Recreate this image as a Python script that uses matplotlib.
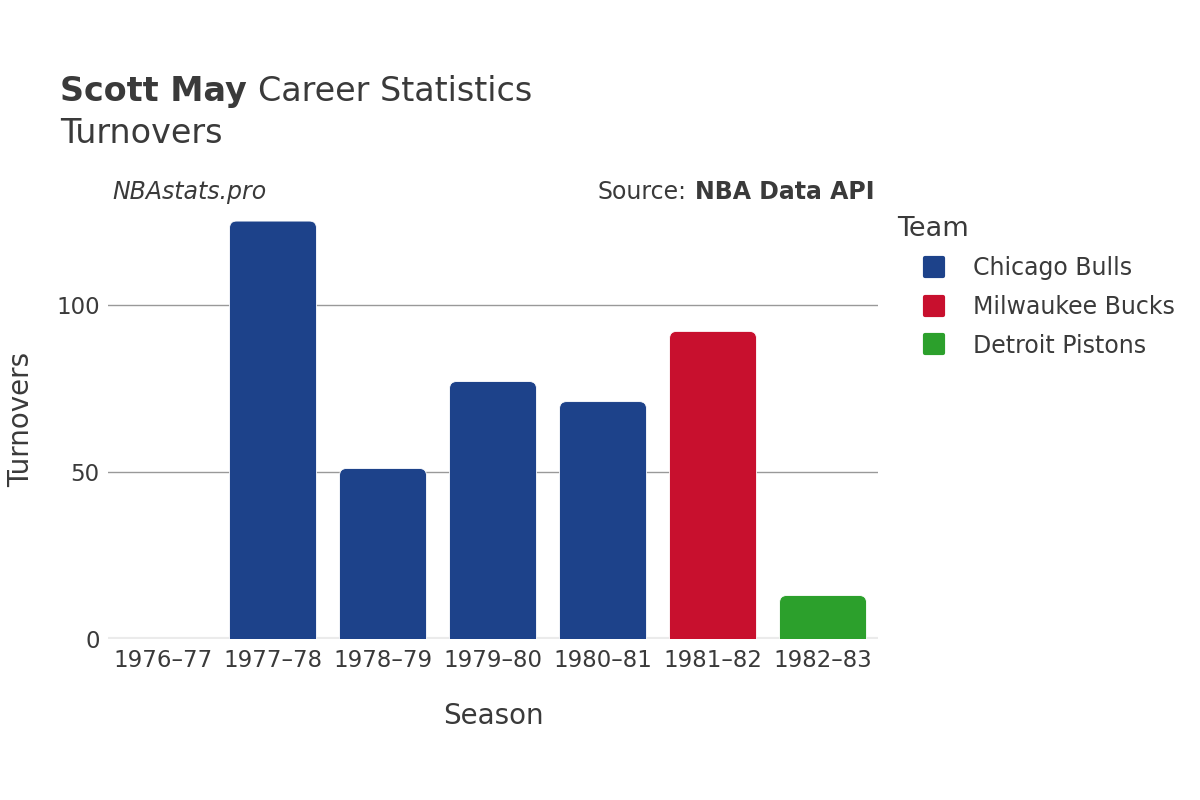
import matplotlib.pyplot as plt
from matplotlib.patches import FancyBboxPatch
from matplotlib.lines import Line2D
from matplotlib.markers import MarkerStyle

seasons = ['1976–77', '1977–78', '1978–79', '1979–80', '1980–81', '1981–82', '1982–83']
turnovers = [0, 125, 51, 77, 71, 92, 13]
teams = ['Chicago Bulls', 'Chicago Bulls', 'Chicago Bulls', 'Chicago Bulls', 'Chicago Bulls',
         'Milwaukee Bucks', 'Detroit Pistons']
team_order = ['Chicago Bulls', 'Milwaukee Bucks', 'Detroit Pistons']
team_colors = {'Chicago Bulls': '#1d428a', 'Milwaukee Bucks': '#c8102e', 'Detroit Pistons': '#2ca02c'}

plt.rcParams['font.family'] = ['DejaVu Sans']
txt = '#3a3a3a'

fig = plt.figure(figsize=(12, 8), dpi=100)
ax = fig.add_axes([0.09, 0.20125, 0.6417, 0.55])
ymax = 131.6
ax.set_xlim(-0.5, len(seasons) - 0.5)
ax.set_ylim(0, ymax)

bars = ax.bar(range(len(seasons)), turnovers, width=0.79,
              color=[team_colors[t] for t in teams])
# swap plain bars for ones with rounded tops
ax_w, ax_h = 770, 440
x_per_px = 7 / ax_w
y_per_px = ymax / ax_h
r = 7 * x_per_px
for b in bars:
    b.set_visible(False)
    h = b.get_height()
    if h <= 0:
        continue
    p = FancyBboxPatch((b.get_x(), -10), b.get_width(), h + 10,
                       boxstyle='round,pad=0,rounding_size=%f' % r,
                       mutation_aspect=y_per_px / x_per_px,
                       facecolor=b.get_facecolor(), edgecolor='white', linewidth=0.6,
                       zorder=3)
    ax.add_patch(p)

ax.set_yticks([0, 50, 100])
ax.grid(axis='y', color='#999999', linewidth=1)
ax.set_axisbelow(True)
ax.axhline(0, color='#ebebeb', linewidth=3, zorder=2)
for s in ax.spines.values():
    s.set_visible(False)
ax.set_xticks(range(len(seasons)))
ax.set_xticklabels(seasons)
ax.tick_params(axis='both', length=0, labelsize=16.5, labelcolor=txt, pad=6)
ax.tick_params(axis='x', pad=7)
ax.set_xlabel('Season', fontsize=20, color=txt, labelpad=22)
ax.set_ylabel('Turnovers', fontsize=20, color=txt, labelpad=15)

fig.canvas.draw()
rend = fig.canvas.get_renderer()
inv = fig.transFigure.inverted()

t1 = fig.text(0.05, 0.874, 'Scott May', fontsize=24, fontweight='bold', color=txt, va='baseline')
x1 = inv.transform(t1.get_window_extent(rend))[1][0]
fig.text(x1 + 0.009, 0.874, 'Career Statistics', fontsize=24, color=txt, va='baseline')
fig.text(0.05, 0.821, 'Turnovers', fontsize=24, color=txt, va='baseline')
fig.text(0.094, 0.751, 'NBAstats.pro', fontsize=17, style='italic', color=txt, va='baseline')
t2 = fig.text(0.729, 0.751, 'NBA Data API', fontsize=17, fontweight='bold', color=txt,
              va='baseline', ha='right')
x2 = inv.transform(t2.get_window_extent(rend))[0][0]
fig.text(x2 - 0.007, 0.751, 'Source:', fontsize=17, color=txt, va='baseline', ha='right')

sq = MarkerStyle('s', joinstyle='round')
handles = [Line2D([0], [0], marker=sq, linestyle='', markersize=13,
                  markerfacecolor=team_colors[t], markeredgecolor=team_colors[t],
                  markeredgewidth=3)
           for t in team_order]
leg = fig.legend(handles, team_order, loc='upper left', bbox_to_anchor=(0.74, 0.742),
                 frameon=False, fontsize=17, title='Team', title_fontsize=19.5,
                 handletextpad=0.12, labelspacing=0.62, borderaxespad=0, handlelength=3.1)
leg._legend_box.align = 'left'
for t in leg.get_texts():
    t.set_color(txt)
leg.get_title().set_color(txt)

fig.savefig('out.png')
